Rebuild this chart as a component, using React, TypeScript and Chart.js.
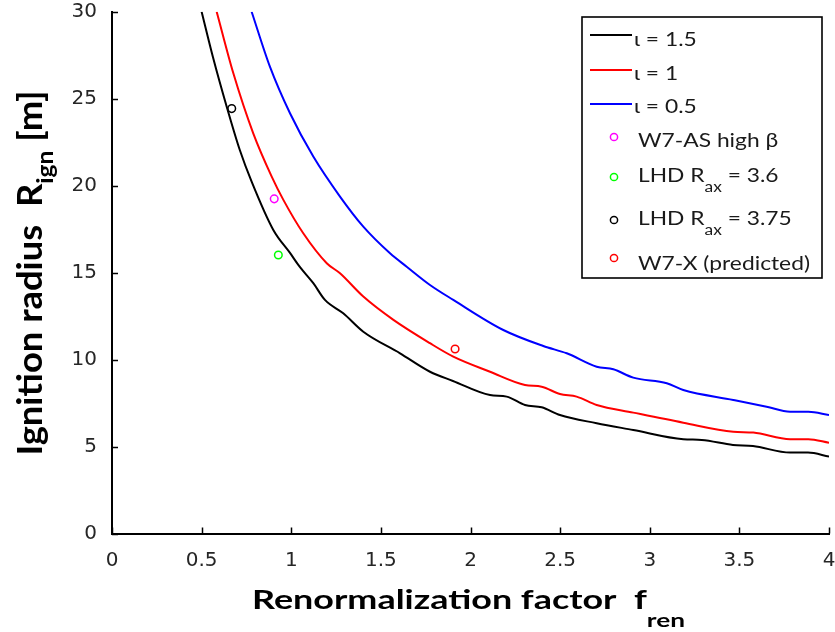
import React, { useEffect, useRef } from "react";
import { Chart, registerables } from "chart.js";

Chart.register(...registerables);

// ---- data ----
const fIota15 = [0.5, 0.563, 0.64, 0.713, 0.779, 0.9, 0.993, 1.049, 1.123, 1.188, 1.29, 1.402, 1.607, 1.774, 1.902, 2.109, 2.202, 2.304, 2.397, 2.499, 2.704, 2.908, 3.187, 3.29, 3.464, 3.576, 3.783, 3.883, 4.0];
const rIota15 = [30.0, 27.4, 24.54, 22.05, 20.23, 17.45, 16.13, 15.31, 14.39, 13.43, 12.66, 11.6, 10.36, 9.3, 8.77, 7.96, 7.87, 7.39, 7.26, 6.81, 6.34, 5.95, 5.42, 5.38, 5.09, 5.03, 4.65, 4.65, 4.42];

const fIota10 = [0.584, 0.677, 0.788, 0.891, 0.956, 1.067, 1.198, 1.272, 1.402, 1.57, 1.774, 1.904, 2.109, 2.304, 2.397, 2.499, 2.592, 2.704, 2.908, 3.187, 3.466, 3.578, 3.783, 3.885, 4.0];
const rIota10 = [30.0, 26.46, 23.01, 20.52, 19.18, 17.26, 15.54, 14.96, 13.62, 12.28, 10.94, 10.17, 9.3, 8.54, 8.44, 8.02, 7.87, 7.39, 6.95, 6.37, 5.85, 5.8, 5.42, 5.42, 5.22];

const fIota05 = [0.779, 0.881, 0.993, 1.123, 1.272, 1.402, 1.551, 1.644, 1.774, 1.904, 2.183, 2.406, 2.537, 2.704, 2.797, 2.908, 3.095, 3.187, 3.466, 3.652, 3.783, 3.885, 4.0];
const rIota05 = [30.0, 26.84, 24.16, 21.67, 19.37, 17.64, 16.11, 15.34, 14.29, 13.43, 11.7, 10.78, 10.36, 9.59, 9.44, 8.96, 8.64, 8.25, 7.68, 7.29, 7.0, 7.0, 6.81];

const fW7AS = [0.905];
const rW7AS = [19.24];
const fLHD36 = [0.928];
const rLHD36 = [16.01];
const fLHD375 = [0.668];
const rLHD375 = [24.43];
const fW7X = [1.914];
const rW7X = [10.61];

const curveLabels = ["ι = 1.5", "ι = 1", "ι = 0.5"];
const pointLabels = ["W7-AS high β", "LHD R_{ax} = 3.6", "LHD R_{ax} = 3.75", "W7-X (predicted)"];
const xTitle = "Renormalization factor  f_{ren}";
const yTitle = "Ignition radius  R_{ign} [m]";

const xMin = 0, xMax = 4, xStep = 0.5;
const yMin = 0, yMax = 30, yStep = 5;

const toXY = (xs: number[], ys: number[]) => xs.map((x, i) => ({ x, y: ys[i] }));

type Part = { t: string; sub: boolean };
function parseRich(s: string): Part[] {
  return s
    .split(/(_\{[^}]*\})/)
    .filter((p) => p.length > 0)
    .map((p) => (p.startsWith("_{") ? { t: p.slice(2, -1), sub: true } : { t: p, sub: false }));
}

function drawRich(
  ctx: CanvasRenderingContext2D,
  s: string,
  x: number,
  y: number,
  o: { font: string; subFont: string; subDy: number; align: "left" | "center"; target?: number; sx?: number }
) {
  const parts = parseRich(s);
  const widths = parts.map((p) => {
    ctx.font = p.sub ? o.subFont : o.font;
    return ctx.measureText(p.t).width;
  });
  const total = widths.reduce((a, b) => a + b, 0);
  const sx = o.target ? o.target / total : o.sx ?? 1;
  const start = o.align === "center" ? x - (total * sx) / 2 : x;
  ctx.save();
  ctx.translate(start, y);
  ctx.scale(sx, 1);
  let cx = 0;
  parts.forEach((p, i) => {
    ctx.font = p.sub ? o.subFont : o.font;
    ctx.fillText(p.t, cx, p.sub ? o.subDy : 0);
    cx += widths[i];
  });
  ctx.restore();
  return total;
}

const curveColors = ["#000000", "#ff0000", "#0000ff"];
const pointColors = ["#ff00ff", "#00ff00", "#000000", "#ff0000"];

const decorPlugin = {
  id: "decor",
  afterDraw(chart: any) {
    const ctx: CanvasRenderingContext2D = chart.ctx;
    const xs = chart.scales.x;
    const ys = chart.scales.y;
    const a = chart.chartArea;
    ctx.save();
    // inward ticks
    ctx.strokeStyle = "#000";
    ctx.lineWidth = 1.5;
    xs.ticks.forEach((t: any) => {
      const px = Math.round(xs.getPixelForValue(t.value)) + 0.5;
      ctx.beginPath();
      ctx.moveTo(px, a.bottom);
      ctx.lineTo(px, a.bottom - 6);
      ctx.stroke();
    });
    ys.ticks.forEach((t: any) => {
      const py = Math.round(ys.getPixelForValue(t.value)) + 0.5;
      ctx.beginPath();
      ctx.moveTo(a.left, py);
      ctx.lineTo(a.left + 6, py);
      ctx.stroke();
    });

    // axis titles
    ctx.fillStyle = "#000";
    ctx.textBaseline = "alphabetic";
    ctx.textAlign = "left";
    drawRich(ctx, xTitle, 468.5, 609, {
      font: "bold 26px Lato, 'DejaVu Sans'",
      subFont: "bold 19px Lato, 'DejaVu Sans'",
      subDy: 18,
      align: "center",
      target: 433,
    });
    ctx.save();
    ctx.translate(42, 273);
    ctx.rotate(-Math.PI / 2);
    drawRich(ctx, yTitle, 0, 0, {
      font: "bold 34px Lato, 'DejaVu Sans'",
      subFont: "bold 23px Lato, 'DejaVu Sans'",
      subDy: 11,
      align: "center",
      target: 365,
    });
    ctx.restore();

    // legend
    const L = 582, T = 17, W = 240, H = 261;
    ctx.fillStyle = "#fff";
    ctx.fillRect(L, T, W, H);
    ctx.strokeStyle = "#000";
    ctx.lineWidth = 1.6;
    ctx.strokeRect(L, T, W, H);
    const lf = "19px Lato, 'DejaVu Sans'";
    const lsf = "14.5px Lato, 'DejaVu Sans'";
    ctx.font = lf;
    const lsx = 172 / ctx.measureText(pointLabels[3]).width;
    const lineYs = [35, 70, 104];
    const lineBase = [46, 80, 113];
    ctx.fillStyle = "#1a1a1a";
    curveLabels.forEach((lab, i) => {
      ctx.strokeStyle = curveColors[i];
      ctx.lineWidth = 2;
      ctx.beginPath();
      ctx.moveTo(590, lineYs[i]);
      ctx.lineTo(632, lineYs[i]);
      ctx.stroke();
      drawRich(ctx, lab, 634, lineBase[i], { font: lf, subFont: lsf, subDy: 10, align: "left", sx: lsx });
    });
    const mkYs = [137, 177, 220, 258];
    const mkBase = [147, 182, 225, 270];
    pointLabels.forEach((lab, i) => {
      ctx.strokeStyle = pointColors[i];
      ctx.lineWidth = 1.5;
      ctx.beginPath();
      ctx.arc(614, mkYs[i], 3.6, 0, Math.PI * 2);
      ctx.stroke();
      drawRich(ctx, lab, 638, mkBase[i], { font: lf, subFont: lsf, subDy: 10, align: "left", sx: lsx });
    });
    ctx.restore();
  },
};

export default function App() {
  const ref = useRef<HTMLCanvasElement>(null);
  useEffect(() => {
    const canvas = ref.current;
    if (!canvas) return;
    const curves = [
      [fIota15, rIota15],
      [fIota10, rIota10],
      [fIota05, rIota05],
    ];
    const pts = [
      [fW7AS, rW7AS],
      [fLHD36, rLHD36],
      [fLHD375, rLHD375],
      [fW7X, rW7X],
    ];
    const datasets: any[] = [
      ...curves.map(([xs, ys], i) => ({
        label: curveLabels[i],
        data: toXY(xs, ys),
        showLine: true,
        borderColor: curveColors[i],
        backgroundColor: curveColors[i],
        borderWidth: 2,
        pointRadius: 0,
        cubicInterpolationMode: "monotone",
      })),
      ...pts.map(([xs, ys], i) => ({
        label: pointLabels[i].replace(/_\{([^}]*)\}/g, "$1"),
        data: toXY(xs, ys),
        showLine: false,
        pointStyle: "circle",
        pointRadius: 3.8,
        pointBorderWidth: 1.5,
        borderColor: pointColors[i],
        backgroundColor: "rgba(0,0,0,0)",
      })),
    ];
    const tickFont = { family: "'DejaVu Sans'", size: 20 };
    const chart = new Chart(canvas, {
      type: "scatter",
      data: { datasets },
      options: {
        animation: false,
        responsive: false,
        devicePixelRatio: 1,
        layout: { padding: { left: 0, right: 6, top: 11.7, bottom: 0 } },
        plugins: { legend: { display: false }, tooltip: { enabled: false } },
        scales: {
          x: {
            type: "linear",
            min: xMin,
            max: xMax,
            afterFit: (s: any) => {
              s.height = 98.5;
              s.paddingLeft = 0;
              s.paddingRight = 0;
            },
            grid: { display: false },
            border: { display: true, color: "#000", width: 2 },
            ticks: {
              stepSize: xStep,
              autoSkip: false,
              maxRotation: 0,
              padding: 7,
              color: "#262626",
              font: tickFont,
              callback: (v: any) => String(Number(v)),
            },
          },
          y: {
            type: "linear",
            min: yMin,
            max: yMax,
            afterFit: (s: any) => {
              s.width = 112;
              s.paddingTop = 0;
              s.paddingBottom = 0;
            },
            grid: { display: false },
            border: { display: true, color: "#000", width: 2 },
            ticks: {
              stepSize: yStep,
              autoSkip: false,
              padding: 7,
              color: "#262626",
              font: tickFont,
              callback: (v: any) => String(Number(v)),
            },
          },
        },
      },
      plugins: [decorPlugin],
    } as any);
    return () => chart.destroy();
  }, []);
  return (
    <div style={{ position: "fixed", left: 0, top: 0, width: 835, height: 632, background: "#fff" }}>
      <canvas ref={ref} width={835} height={632} style={{ display: "block" }} />
    </div>
  );
}
